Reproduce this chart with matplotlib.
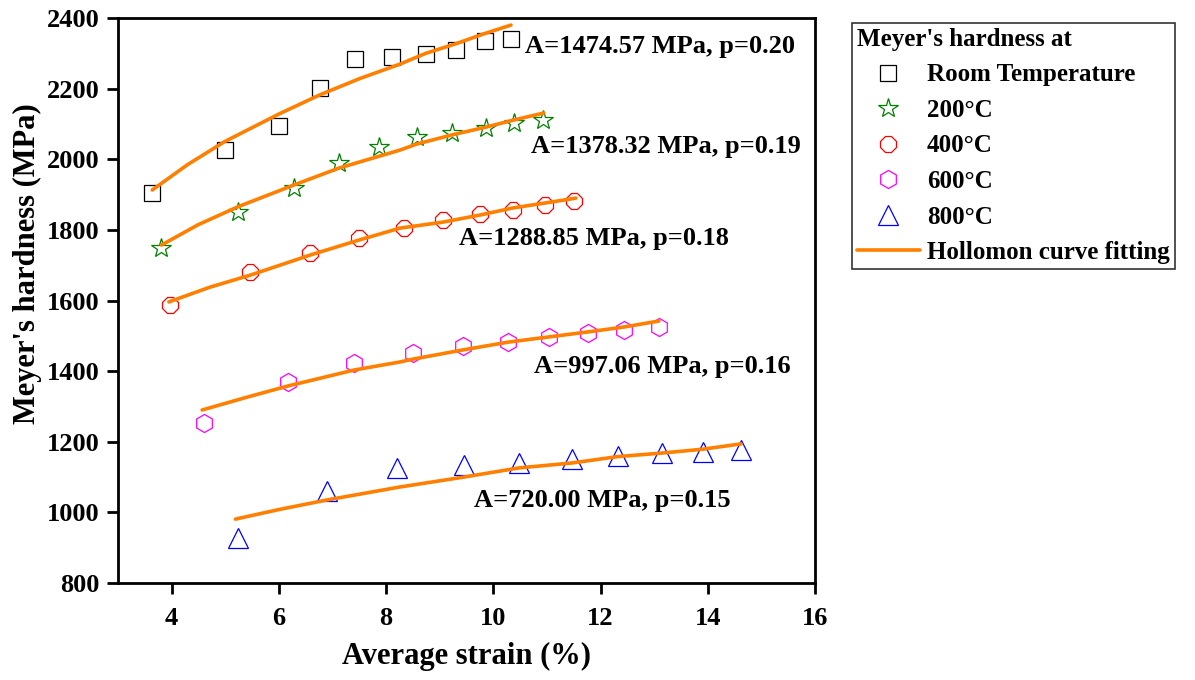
import matplotlib
matplotlib.use("Agg")
import matplotlib.pyplot as plt

plt.rcParams['font.family'] = ['Liberation Serif', 'DejaVu Serif']
plt.rcParams['font.weight'] = 'bold'

# measured points (average strain %, Meyer's hardness MPa)
rt_x = [3.64, 4.99, 6.00, 6.76, 7.42, 8.12, 8.74, 9.30, 9.84, 10.33]
rt_y = [1904, 2026, 2093, 2201, 2283, 2289, 2298, 2309, 2335, 2341]

t200_x = [3.81, 5.23, 6.28, 7.12, 7.86, 8.57, 9.23, 9.86, 10.38, 10.92]
t200_y = [1749, 1851, 1919, 1989, 2035, 2063, 2074, 2088, 2103, 2111]

t400_x = [3.98, 5.47, 6.59, 7.49, 8.33, 9.06, 9.75, 10.36, 10.96, 11.50]
t400_y = [1587, 1681, 1734, 1777, 1805, 1828, 1845, 1856, 1870, 1882]

t600_x = [4.60, 6.17, 7.40, 8.50, 9.43, 10.27, 11.04, 11.76, 12.44, 13.09]
t600_y = [1253, 1369, 1423, 1451, 1471, 1482, 1497, 1508, 1516, 1525]

t800_x = [5.23, 6.89, 8.20, 9.45, 10.48, 11.47, 12.32, 13.14, 13.91, 14.62]
t800_y = [927, 1060, 1126, 1134, 1140, 1151, 1160, 1168, 1171, 1177]

# Hollomon fitted curves
fit_rt_x = [3.64, 4.30, 4.99, 6.00, 6.76, 7.50, 8.27, 8.74, 9.30, 9.82, 10.33]
fit_rt_y = [1913, 1985, 2050, 2128, 2182, 2228, 2270, 2300, 2327, 2355, 2380]

fit_200_x = [3.81, 4.50, 5.23, 6.28, 7.12, 8.26, 8.57, 9.23, 9.86, 10.38, 10.94]
fit_200_y = [1757, 1815, 1865, 1927, 1975, 2026, 2043, 2069, 2091, 2111, 2131]

fit_400_x = [3.95, 4.70, 5.47, 6.59, 7.49, 8.26, 9.06, 9.75, 10.36, 10.96, 11.54]
fit_400_y = [1596, 1637, 1672, 1729, 1771, 1805, 1822, 1842, 1862, 1876, 1890]

fit_600_x = [4.57, 5.40, 6.17, 7.40, 8.26, 8.50, 9.43, 10.27, 11.04, 11.76, 12.44, 13.09]
fit_600_y = [1290, 1326, 1358, 1403, 1426, 1434, 1460, 1482, 1497, 1511, 1525, 1542]

fit_800_x = [5.19, 6.00, 6.89, 8.26, 9.45, 10.48, 11.47, 12.32, 13.14, 13.91, 14.62]
fit_800_y = [981, 1008, 1035, 1072, 1100, 1126, 1140, 1158, 1168, 1179, 1194]

fit_labels = ["A=1474.57 MPa, p=0.20", "A=1378.32 MPa, p=0.19", "A=1288.85 MPa, p=0.18",
              "A=997.06 MPa, p=0.16", "A=720.00 MPa, p=0.15"]
label_pos = [(10.59, 2318), (10.70, 2035), (9.36, 1777), (10.76, 1412), (9.64, 1035)]

orange = '#ff7f00'

fig = plt.figure(figsize=(11.95, 6.8), dpi=100)
ax = fig.add_axes([0.0987, 0.1426, 0.5833, 0.8309])

ax.plot(rt_x, rt_y, 's', ms=11, mfc='none', mec='black', mew=0.9, ls='none',
        label='Room Temperature')
ax.plot(t200_x, t200_y, '*', ms=15, mfc='none', mec='#008000', mew=0.9, ls='none',
        label='200°C')
ax.plot(t400_x, t400_y, '8', ms=12, mfc='none', mec='#ff0000', mew=0.9, ls='none',
        label='400°C')
ax.plot(t600_x, t600_y, 'h', ms=13, mfc='none', mec='#ff00ff', mew=0.9, ls='none',
        label='600°C')
ax.plot(t800_x, t800_y, '^', ms=14, mfc='none', mec='#0000ff', mew=0.9, ls='none',
        label='800°C')

fits = [(fit_rt_x, fit_rt_y), (fit_200_x, fit_200_y), (fit_400_x, fit_400_y),
        (fit_600_x, fit_600_y), (fit_800_x, fit_800_y)]
for i, (fx, fy) in enumerate(fits):
    ax.plot(fx, fy, color=orange, lw=2.6, solid_capstyle='round',
            label='Hollomon curve fitting' if i == 0 else None)

for txt, (tx, ty) in zip(fit_labels, label_pos):
    ax.text(tx, ty, txt, fontsize=19, fontweight='bold', va='center', ha='left')

ax.set_xlim(3, 16)
ax.set_ylim(800, 2400)
ax.set_xticks([4, 6, 8, 10, 12, 14, 16])
ax.set_yticks(range(800, 2401, 200))
for s in ax.spines.values():
    s.set_linewidth(2)
ax.tick_params(axis='both', direction='out', length=8, width=2, labelsize=19)
ax.tick_params(axis='x', pad=9)
ax.tick_params(axis='y', pad=5)
for lab in ax.get_xticklabels() + ax.get_yticklabels():
    lab.set_fontweight('bold')

ax.set_xlabel('Average strain (%)', fontsize=22, fontweight='bold')
ax.set_ylabel("Meyer's hardness (MPa)", fontsize=22, fontweight='bold')
ax.xaxis.set_label_coords(0.5, -0.105)
ax.yaxis.set_label_coords(-0.109, 0.566)

handles, labels = ax.get_legend_handles_labels()
leg = fig.legend(handles, labels, loc='upper left', bbox_to_anchor=(852 / 1195, 1 - 23 / 680),
                 title="Meyer's hardness at", alignment='left', frameon=True, fancybox=False,
                 edgecolor='black', prop={'size': 18, 'weight': 'bold'},
                 title_fontproperties={'size': 18, 'weight': 'bold'},
                 handlelength=2.5, handletextpad=0.3, borderpad=0.2, borderaxespad=0,
                 labelspacing=0.5)
leg.get_frame().set_linewidth(1.2)

fig.savefig('out.png', dpi=100)
